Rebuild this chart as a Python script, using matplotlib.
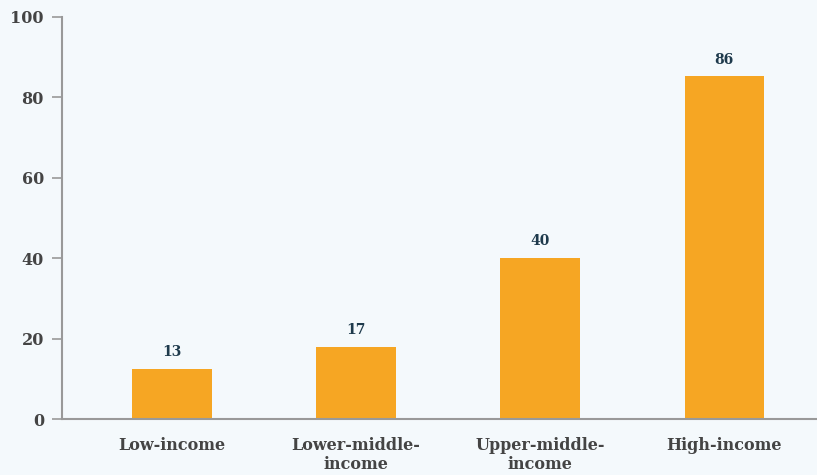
import matplotlib.pyplot as plt

# data
categories = ['Low-income', 'Lower-middle-\nincome', 'Upper-middle-\nincome', 'High-income']
heights = [12.4, 17.9, 40.0, 85.2]
labels = ['13', '17', '40', '86']
yticks = [0, 20, 40, 60, 80, 100]

bg = '#F4F9FC'
bar_color = '#F6A623'
grey = '#999999'

plt.rcParams['font.family'] = ['DejaVu Serif']

fig = plt.figure(figsize=(8.17, 4.75), dpi=100, facecolor=bg)
ax = fig.add_axes([62 / 817, 56 / 475, 755 / 817, 402 / 475])
ax.set_facecolor(bg)

x = list(range(len(categories)))
bars = ax.bar(x, heights, width=0.43, color=bar_color, zorder=2)

for b, lab in zip(bars, labels):
    ax.annotate(lab, (b.get_x() + b.get_width() / 2, b.get_height()),
                xytext=(0, 7), textcoords='offset points', ha='center', va='bottom',
                fontsize=10, fontweight='bold', color='#1E3A4C')

ax.set_xlim(-0.598, 3.505)
ax.set_ylim(0, 100)
ax.set_yticks(yticks)
ax.set_xticks(x)
ax.set_xticklabels(categories, linespacing=1.15)

for s in ['top', 'right']:
    ax.spines[s].set_visible(False)
for s in ['left', 'bottom']:
    ax.spines[s].set_color(grey)
    ax.spines[s].set_linewidth(1.5)

ax.tick_params(axis='y', length=7, width=1.2, color=grey, pad=6,
               labelsize=11.5, labelcolor='#444444')
ax.tick_params(axis='x', length=0, pad=13, labelsize=11.5, labelcolor='#444444')
for t in ax.get_xticklabels() + ax.get_yticklabels():
    t.set_fontweight('bold')

fig.savefig('out.png', dpi=100, facecolor=bg)
